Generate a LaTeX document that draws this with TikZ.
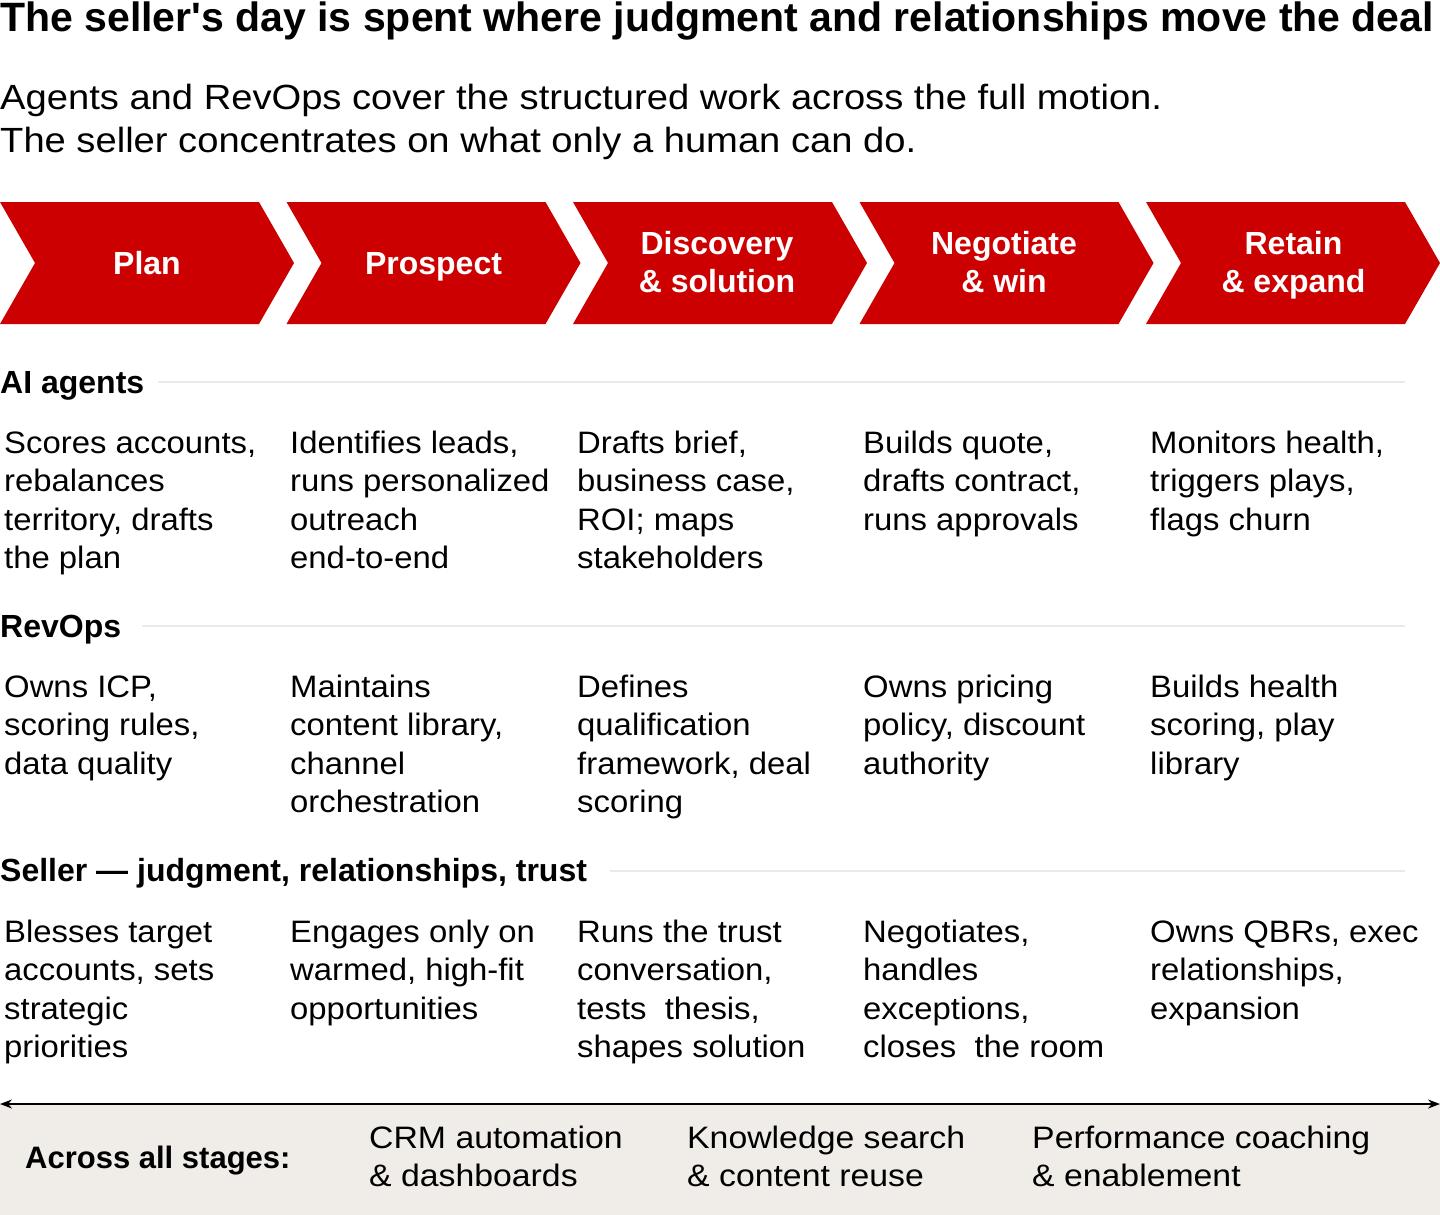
\documentclass[tikz,border=0pt]{standalone}
\usepackage{fontspec}
\setmainfont{Liberation Sans}
\newfontfamily\bodyfont{Liberation Sans}[FakeStretch=1.06]
\newfontfamily\subfont{Liberation Sans}[FakeStretch=1.09]
\newfontfamily\itemfont{Liberation Sans}[FakeStretch=1.09]
\newfontfamily\titlefont{Liberation Sans}[Ligatures=TeXOff]
\usetikzlibrary{arrows.meta}
\definecolor{brandred}{HTML}{CC0000}
\definecolor{rulegray}{HTML}{ECE8E3}
\definecolor{panelgray}{HTML}{F0EDE9}
\newcommand\tlines[1]{\begin{tabular}[t]{@{}l@{}}#1\end{tabular}}
\newcommand\clines[1]{\begin{tabular}[t]{@{}c@{}}#1\end{tabular}}
\tikzset{
  chev/.style={fill=brandred, draw=none},
  chevlabel/.style={text=white, inner sep=0pt, anchor=base,
    font=\bfseries\fontsize{32}{38}\selectfont},
  header/.style={anchor=base west, inner sep=0pt, font=\bfseries\fontsize{32}{38}\selectfont},
  sep/.style={draw=rulegray, line width=2pt},
  cell/.style={anchor=base west, inner sep=0pt,
    font=\bodyfont\fontsize{31}{38.5}\selectfont},
  item/.style={anchor=base west, inner sep=0pt,
    font=\itemfont\fontsize{31}{38}\selectfont},
}
\begin{document}
\begin{tikzpicture}[x=1pt, y=-1pt]
\useasboundingbox (0,0) rectangle (1440,1215);

% title and subtitle
\node[anchor=base west, inner sep=0pt, font=\titlefont\bfseries\fontsize{41}{48}\selectfont] (title) at (0,32)
  {The seller's day is spent where judgment and relationships move the deal};
\node[anchor=base west, inner sep=0pt, font=\subfont\fontsize{35}{43}\selectfont] (sub) at (0,110)
  {\tlines{Agents and RevOps cover the structured work across the full motion.\\The seller concentrates on what only a human can do.}};

% chevrons
\foreach \i in {0,...,4}{
  \pgfmathsetmacro{\xo}{286.5*\i}
  \fill[chev] (\xo,202) -- ++(259,0) -- ++(35,61) -- ++(-35,61) -- ++(-259,0) -- ++(35,-61) -- cycle;
}
\node[chevlabel] (plan) at (147,274.5) {Plan};
\node[chevlabel] (prospect) at (433.5,274.5) {Prospect};
\node[chevlabel] (discovery) at (717,254.5) {\clines{Discovery\\\& solution}};
\node[chevlabel] (negotiate) at (1004,254.5) {\clines{Negotiate\\\& win}};
\node[chevlabel] (retain) at (1293.5,254.5) {\clines{Retain\\\& expand}};

% AI agents
\node[header] (hai) at (0,393) {AI agents};
\coordinate (ai1) at (158,382); \coordinate (ai2) at (1405,382);
\draw[sep] (ai1) -- (ai2);
\node[cell] (a1) at (4,453) {\tlines{Scores accounts,\\rebalances\\territory, drafts\\the plan}};
\node[cell] (a2) at (290,453) {\tlines{Identifies leads,\\runs personalized\\outreach\\end-to-end}};
\node[cell] (a3) at (577,453) {\tlines{Drafts brief,\\business case,\\ROI; maps\\stakeholders}};
\node[cell] (a4) at (863,453) {\tlines{Builds quote,\\drafts contract,\\runs approvals}};
\node[cell] (a5) at (1150,453) {\tlines{Monitors health,\\triggers plays,\\flags churn}};

% RevOps
\node[header] (hro) at (0,637) {RevOps};
\coordinate (ro1) at (142,626); \coordinate (ro2) at (1405,626);
\draw[sep] (ro1) -- (ro2);
\node[cell] (r1) at (4,697) {\tlines{Owns ICP,\\scoring rules,\\data quality}};
\node[cell] (r2) at (290,697) {\tlines{Maintains\\content library,\\channel\\orchestration}};
\node[cell] (r3) at (577,697) {\tlines{Defines\\qualification\\framework, deal\\scoring}};
\node[cell] (r4) at (863,697) {\tlines{Owns pricing\\policy, discount\\authority}};
\node[cell] (r5) at (1150,697) {\tlines{Builds health\\scoring, play\\library}};

% Seller
\node[header] (hse) at (0,881) {Seller --- judgment, relationships, trust};
\coordinate (se1) at (610,871); \coordinate (se2) at (1405,871);
\draw[sep] (se1) -- (se2);
\node[cell] (s1) at (4,942) {\tlines{Blesses target\\accounts, sets\\strategic\\priorities}};
\node[cell] (s2) at (290,942) {\tlines{Engages only on\\warmed, high-fit\\opportunities}};
\node[cell] (s3) at (577,942) {\tlines{Runs the trust\\conversation,\\tests~ thesis,\\shapes solution}};
\node[cell] (s4) at (863,942) {\tlines{Negotiates,\\handles\\exceptions,\\closes~ the room}};
\node[cell] (s5) at (1150,942) {\tlines{Owns QBRs, exec\\relationships,\\expansion}};

% bottom panel
\fill[panelgray] (0,1104) rectangle (1440,1215);
\coordinate (arrL) at (0,1104); \coordinate (arrR) at (1440,1104);
\draw[line width=1.5pt, {Stealth[length=12pt,width=9pt]}-{Stealth[length=12pt,width=9pt]}] (arrL) -- (arrR);
\node[anchor=base west, inner sep=0pt, font=\bfseries\fontsize{31}{38}\selectfont] (across) at (25,1168) {Across all stages:};
\node[item] (b1) at (369,1148) {\tlines{CRM automation\\\& dashboards}};
\node[item] (b2) at (687,1148) {\tlines{Knowledge search\\\& content reuse}};
\node[item] (b3) at (1032,1148) {\tlines{Performance coaching\\\& enablement}};
\end{tikzpicture}
\end{document}
